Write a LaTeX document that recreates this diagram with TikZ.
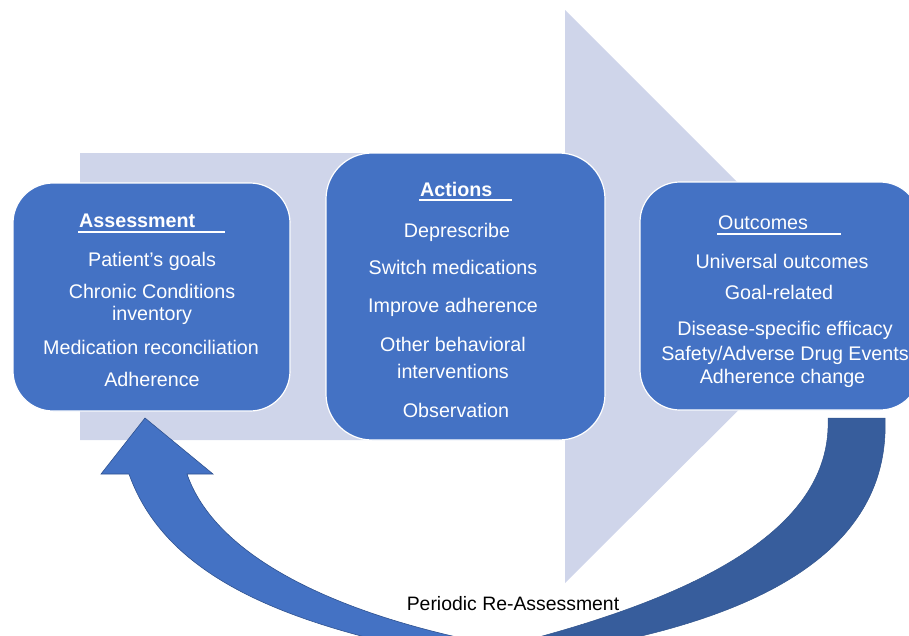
\documentclass[tikz,border=0pt]{standalone}
\usepackage{fontspec}
\setmainfont{Liberation Sans}
\definecolor{lav}{HTML}{CFD5EA}
\definecolor{boxblue}{HTML}{4472C4}
\definecolor{darkarc}{HTML}{375D9C}
\definecolor{edgeblue}{HTML}{2F528F}
\begin{document}
\begin{tikzpicture}[x=1pt,y=-1pt,
  box/.style={draw=white,line width=1.2pt,fill=boxblue,rounded corners=#1,inner sep=0pt},
  item/.style={text=white,anchor=base,inner sep=0pt,font=\fontsize{19.7}{23}\selectfont},
  head/.style={text=white,anchor=base west,inner sep=0pt,font=\fontsize{19.7}{23}\selectfont},
  uline/.style={draw=white,line width=1.4pt}]
\useasboundingbox (0,0) rectangle (909,635);
\clip (0,0) rectangle (909,635);
% big background arrow
\fill[lav] (80,153) -- (565,153) -- (565,10) -- (852,297) -- (565,583) -- (565,440) -- (80,440) -- cycle;
% boxes
\node[box=40pt,minimum width=277pt,minimum height=228pt] (assess) at (151.5,297) {};
\node[box=46pt,minimum width=279pt,minimum height=287pt] (act) at (465.5,296.5) {};
\node[box=40pt,minimum width=280pt,minimum height=228pt] (out) at (780,296) {};
% Assessment
\node[head] (hA) at (79,227.3) {\bfseries Assessment};
\coordinate (uA1) at (78,232); \coordinate (uA2) at (225,232);
\draw[uline] (uA1) -- (uA2);
\node[item] (a1) at (152,266) {Patient’s goals};
\node[item] (a2) at (152,298) {Chronic Conditions};
\node[item] (a3) at (152,320.7) {inventory};
\node[item] (a4) at (151,354.3) {Medication reconciliation};
\node[item] (a5) at (152,386) {Adherence};
% Actions
\node[head] (hB) at (420,196) {\bfseries Actions};
\coordinate (uB1) at (419,200); \coordinate (uB2) at (512,200);
\draw[uline] (uB1) -- (uB2);
\node[item] (b1) at (457,237.3) {Deprescribe};
\node[item] (b2) at (453,274.3) {Switch medications};
\node[item] (b3) at (453,312.7) {Improve adherence};
\node[item] (b4) at (453,351) {Other behavioral};
\node[item] (b5) at (453,378.7) {interventions};
\node[item] (b6) at (456,417.3) {Observation};
% Outcomes
\node[head] (hC) at (718,229) {Outcomes};
\coordinate (uC1) at (717,234); \coordinate (uC2) at (841,234);
\draw[uline] (uC1) -- (uC2);
\node[item] (c1) at (782,268.3) {Universal outcomes};
\node[item] (c2) at (779,299.3) {Goal-related};
\node[item] (c3) at (785,335) {Disease-specific efficacy};
\node[item] (c4) at (785,360) {Safety/Adverse Drug Events};
\node[item] (c5) at (782.5,383.3) {Adherence change};
% curved return arrow: dark back part
\coordinate (dTopL) at (828,418); \coordinate (dTopR) at (885,418);
\filldraw[fill=darkarc,draw=darkarc!90!black,line width=0.5pt]
  (dTopL) -- (dTopR)
  .. controls (890,540) and (780,610) .. (600,645)
  -- (520,642)
  .. controls (720,590) and (832,520) .. (dTopL)
  -- cycle;
% curved return arrow: front part with head
\coordinate (tip) at (145,418);
\filldraw[fill=boxblue,draw=edgeblue,line width=0.6pt]
  (tip) -- (213,474) -- (187,474)
  .. controls (215,555) and (330,610) .. (470,640)
  -- (420,650)
  .. controls (280,620) and (165,575) .. (129,474)
  -- (101,474) -- cycle;
\node[anchor=base,inner sep=0pt,font=\fontsize{19.4}{22}\selectfont] (lbl) at (513,610) {Periodic Re-Assessment};
\end{tikzpicture}
\end{document}
